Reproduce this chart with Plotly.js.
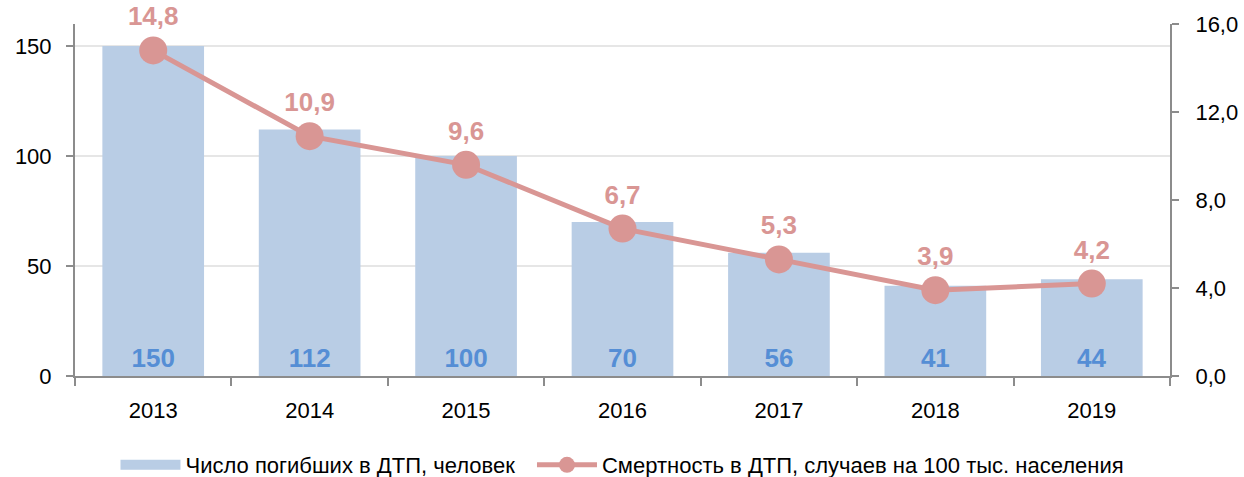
<!DOCTYPE html>
<html><head><meta charset="utf-8">
<script src="https://cdn.plot.ly/plotly-3.0.1.min.js"></script>
<style>body{margin:0;background:#fff}#c{width:1244px;height:477px}</style>
</head><body><div id="c"></div>
<script>
const years = ['2013','2014','2015','2016','2017','2018','2019'];
const deaths = [150,112,100,70,56,41,44];
const rate = [14.8,10.9,9.6,6.7,5.3,3.9,4.2];
const barName = 'Число погибших в ДТП, человек';
const lineName = 'Смертность в ДТП, случаев на 100 тыс. населения';
const leftTicks = [0,50,100,150];

const font = 'Liberation Sans, Arial, sans-serif';
const barColor = '#b9cde5';
const lineColor = '#d99694';
const traces = [
  {type:'bar', x:years, y:deaths, name:barName, width:0.65, showlegend:false,
   marker:{color:barColor},
   text:deaths.map(String), textposition:'inside', insidetextanchor:'start',
   textfont:{color:'#558ed5', size:26, family:font, weight:'bold'},
   hoverinfo:'skip'},
  // legend-only entry giving the bar series a wide swatch
  {type:'scatter', mode:'lines', x:[null], y:[null], name:barName + '\u00a0\u00a0',
   line:{color:barColor, width:10}, hoverinfo:'skip'},
  {type:'scatter', mode:'lines+markers+text', x:years, y:rate, yaxis:'y2', name:lineName,
   line:{color:lineColor, width:5}, marker:{color:lineColor, size:28},
   texttemplate:'%{y:.1f}', textposition:'top center',
   textfont:{color:lineColor, size:26, family:font, weight:'bold'},
   cliponaxis:false, hoverinfo:'skip'}
];
const layout = {
  width:1244, height:477, separators:', ',
  margin:{l:75, r:74, t:24, b:101, autoexpand:false},
  paper_bgcolor:'#fff', plot_bgcolor:'#fff',
  font:{family:font, size:22, color:'#000'},
  xaxis:{type:'category', showline:true, linecolor:'#8c8c8c', linewidth:2,
    ticks:'outside', tickson:'boundaries', ticklen:8, tickcolor:'#8c8c8c', tickwidth:2,
    showgrid:false, tickfont:{size:22}, ticklabelstandoff:14},
  yaxis:{range:[0,160], tickvals:leftTicks, showline:true, linecolor:'#8c8c8c', linewidth:2,
    ticks:'outside', ticklen:7, tickcolor:'#8c8c8c', tickwidth:2,
    gridcolor:'#e6e6e6', gridwidth:2, zeroline:false, tickfont:{size:22}, ticklabelstandoff:10},
  yaxis2:{range:[0,16], dtick:4, tickformat:'.1f', overlaying:'y', side:'right',
    showline:true, linecolor:'#8c8c8c', linewidth:2,
    ticks:'outside', ticklen:7, tickcolor:'#8c8c8c', tickwidth:2,
    showgrid:false, zeroline:false, tickfont:{size:22}, ticklabelstandoff:12},
  legend:{orientation:'h', x:0.5, xanchor:'center', y:-0.253, yanchor:'middle',
    font:{size:22}, itemwidth:60, traceorder:'normal'},
  showlegend:true
};
Plotly.newPlot('c', traces, layout, {staticPlot:true});
</script></body></html>
